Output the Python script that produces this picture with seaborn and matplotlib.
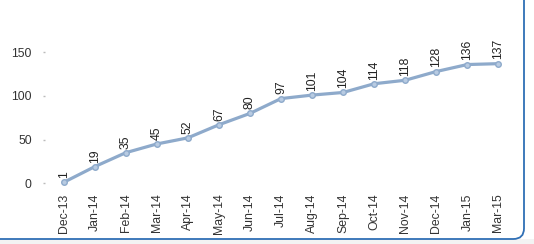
import matplotlib
matplotlib.use("Agg")
import matplotlib.pyplot as plt
import seaborn as sns
import pandas as pd
from matplotlib.patches import FancyBboxPatch, Rectangle

months = ["Dec-13", "Jan-14", "Feb-14", "Mar-14", "Apr-14", "May-14", "Jun-14",
          "Jul-14", "Aug-14", "Sep-14", "Oct-14", "Nov-14", "Dec-14", "Jan-15", "Mar-15"]
values = [1, 19, 35, 45, 52, 67, 80, 97, 101, 104, 114, 118, 128, 136, 137]
yticks = [0, 50, 100, 150]

df = pd.DataFrame({"month": months, "value": values})

sns.set_style("white")
plt.rcParams['font.family'] = ['Liberation Sans', 'DejaVu Sans']

fig = plt.figure(figsize=(5.34, 2.44), dpi=100)
fig.patch.set_facecolor("white")

# frame / border
fig.patches.append(Rectangle((0, 0), 1, 1 - 239 / 244, transform=fig.transFigure,
                             facecolor="#f3f3f3", edgecolor="none", zorder=-2))
fig.patches.append(FancyBboxPatch((-20 / 534, (244 - 239) / 244),
                                  (524 + 20) / 534, 1.2,
                                  boxstyle="round,pad=0,rounding_size=0.02",
                                  transform=fig.transFigure, facecolor="white",
                                  edgecolor="#2f6fb5", linewidth=1.3, zorder=-1,
                                  mutation_aspect=534 / 244))

ax = fig.add_axes([45 / 534, 1 - 185 / 244, (517 - 45) / 534, (185 - 27) / 244])
ax.set_facecolor("none")
line_color = "#8eaacb"
sns.lineplot(data=df, x="month", y="value", ax=ax, color=line_color, linewidth=2.3,
             marker="o", markersize=4, markerfacecolor="#b8cbe2",
             markeredgecolor=line_color, markeredgewidth=1, sort=False)

for i, v in enumerate(values):
    ax.annotate(str(v), (i, v), xytext=(0, 3), textcoords="offset points",
                rotation=90, ha="center", va="bottom", fontsize=8.8, color="#222222")

ax.set_xlim(-0.6, len(months) - 1 + 0.6)
ax.set_ylim(-2, 179)
ax.set_yticks(yticks)
ax.set_yticklabels([str(t) for t in yticks])
ax.tick_params(axis="y", length=1.5, width=1, color="#bbbbbb", pad=8,
               labelsize=8.8, labelcolor="#333333", left=True)
ax.tick_params(axis="x", length=0, pad=6, labelsize=8.8, labelcolor="#333333",
               labelrotation=90)
ax.set_xlabel("")
ax.set_ylabel("")
for s in ax.spines.values():
    s.set_visible(False)
ax.grid(False)

fig.savefig("out.png", dpi=100)
